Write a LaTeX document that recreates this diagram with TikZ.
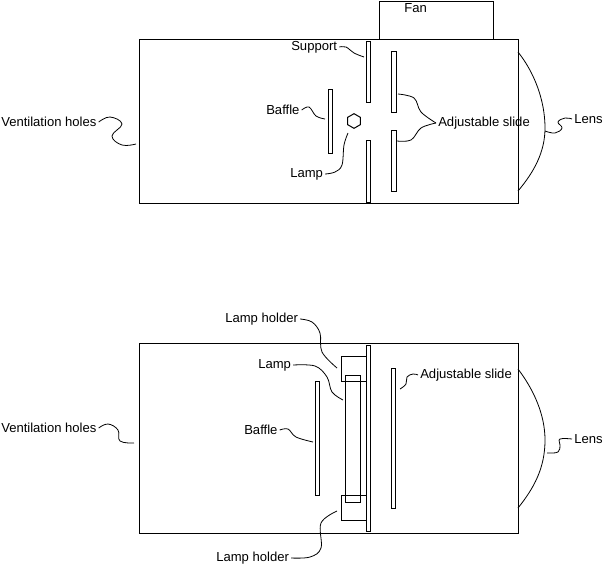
\documentclass[tikz,border=0pt]{standalone}
\usepackage{fontspec}
\setmainfont{Liberation Sans}
\usetikzlibrary{shapes.geometric}
\tikzset{
  part/.style={draw, line width=0.75pt},
  leader/.style={line width=0.6pt},
  lbl/.style={anchor=west, inner sep=1.5pt, font=\fontsize{9.8}{11}\selectfont},
}

\begin{document}
\begin{tikzpicture}[x=0.75pt,y=-0.75pt]
\useasboundingbox (0,0) rectangle (605,565);

%---------------------------------------
% Upper view
%---------------------------------------
% Housing and fan
\draw[part] (139,39) rectangle (518,203);
\draw[part] (379,1) rectangle (493,39);

% Support, slides, baffle
\draw[part] (366,41) rectangle (370,102);
\draw[part] (366,140) rectangle (370,202);
\draw[part] (391,51) rectangle (396,112);
\draw[part] (391,130) rectangle (396,191);
\draw[part] (328,89) rectangle (332,153);

% Lamp
\node[part, regular polygon, regular polygon sides=6, shape border rotate=30,
      minimum size=11pt, inner sep=0pt] (lampTop) at (354,121) {};

% Lens
\coordinate (lensTopA) at (518,52);
\coordinate (lensTopB) at (518,191);
\draw[leader] (lensTopA) .. controls (534,72) and (545,100) .. (545,128)
  .. controls (545,152) and (534,172) .. (lensTopB);

% Labels
\node[lbl] (fanLbl) at (402,8) {Fan};
\node[lbl] (supportLbl) at (289,47) {Support};
\node[lbl] (baffleTop) at (264,110) {Baffle};
\node[lbl] (lampLbl) at (288,174) {Lamp};
\node[lbl] (slideTop) at (436,123) {Adjustable slide};
\node[lbl] (lensTop) at (572,119) {Lens};
\node[lbl] (ventTop) at (-1,122) {Ventilation holes};

% Leaders
\coordinate (endSupport) at (364,57);
\coordinate (endBaffle) at (325,119);
\coordinate (endLamp) at (348,133);
\coordinate (endSlideA) at (398,94);
\coordinate (endSlideB) at (397,141);
\coordinate (endLens) at (545,131);
\coordinate (endVent) at (136,144);
\draw[leader] plot[smooth,tension=0.6] coordinates
  {(supportLbl.east) (346,47) (354,53) (endSupport)};
\draw[leader] plot[smooth,tension=0.6] coordinates
  {(baffleTop.east) (309,107) (316,116) (endBaffle)};
\draw[leader] plot[smooth,tension=0.6] coordinates
  {(endLamp) (344,145) (342,165) (335,172) (lampLbl.east)};
\draw[leader] plot[smooth,tension=0.6] coordinates
  {(endSlideA) (414,98) (421,112) (slideTop.west)};
\draw[leader] plot[smooth,tension=0.6] coordinates
  {(endSlideB) (411,140) (421,128) (slideTop.west)};
\draw[leader] plot[smooth,tension=0.7] coordinates
  {(endLens) (555,133) (562,128) (558,122) (565,118) (lensTop.west)};
\draw[leader] plot[smooth,tension=0.7] coordinates
  {(ventTop.east) (110,117) (122,124) (112,136) (122,145) (endVent)};

%---------------------------------------
% Lower view
%---------------------------------------
% Housing
\draw[part] (139,343) rectangle (518,533);

% Support, slide, baffle
\draw[part] (366,345) rectangle (370,531);
\draw[part] (391,368) rectangle (395,508);
\draw[part] (315,381) rectangle (319,495);

% Lamp and holders
\draw[part] (345,375) rectangle (360,502);
\draw[part] (366,356) -- (341,356) -- (341,381) -- (366,381);
\draw[part] (366,495) -- (341,495) -- (341,520) -- (366,520);

% Lens
\coordinate (lensLowA) at (518,369);
\coordinate (lensLowB) at (518,508);
\draw[leader] (lensLowA) .. controls (534,390) and (545,415) .. (545,440)
  .. controls (545,468) and (534,488) .. (lensLowB);

% Labels
\node[lbl] (holderUp) at (223,319) {Lamp holder};
\node[lbl] (lampLow) at (256,365) {Lamp};
\node[lbl] (baffleLow) at (242,430) {Baffle};
\node[lbl] (holderDown) at (214,558) {Lamp holder};
\node[lbl] (slideLow) at (418,375) {Adjustable slide};
\node[lbl] (lensLow) at (572,439) {Lens};
\node[lbl] (ventLow) at (-1,428) {Ventilation holes};

% Leaders
\coordinate (endHolderUp) at (337,368);
\coordinate (endHolderDown) at (337,511);
\coordinate (endLampLow) at (343,400);
\coordinate (endBaffleLow) at (313,442);
\coordinate (endSlideLow) at (400,389);
\coordinate (endLensLow) at (547,453);
\coordinate (endVentLow) at (134,443);
\draw[leader] plot[smooth,tension=0.6] coordinates
  {(holderUp.east) (312,322) (320,333) (322,352) (endHolderUp)};
\draw[leader] plot[smooth,tension=0.6] coordinates
  {(lampLow.east) (315,366) (327,377) (332,392) (endLampLow)};
\draw[leader] plot[smooth,tension=0.6] coordinates
  {(baffleLow.east) (288,429) (296,437) (endBaffleLow)};
\draw[leader] plot[smooth,tension=0.6] coordinates
  {(holderDown.east) (310,557) (321,548) (321,523) (endHolderDown)};
\draw[leader] plot[smooth,tension=0.7] coordinates
  {(endSlideLow) (406,384) (407,377) (413,374) (slideLow.west)};
\draw[leader] plot[smooth,tension=0.7] coordinates
  {(endLensLow) (558,452) (560,445) (560,439) (lensLow.west)};
\draw[leader] plot[smooth,tension=0.7] coordinates
  {(ventLow.east) (108,424) (118,430) (120,441) (endVentLow)};
\end{tikzpicture}
\end{document}
